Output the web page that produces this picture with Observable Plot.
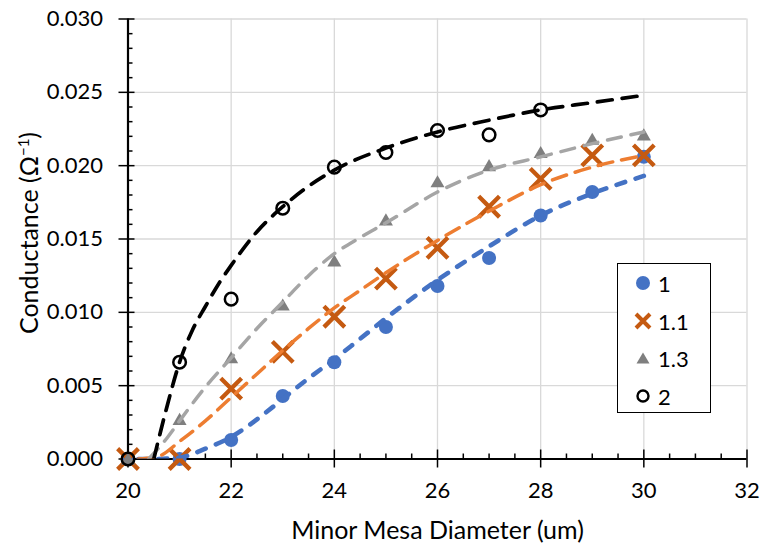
<!DOCTYPE html>
<html>
<head>
<meta charset="utf-8">
<script src="https://cdn.jsdelivr.net/npm/d3@7"></script>
<script src="https://cdn.jsdelivr.net/npm/@observablehq/plot@0.6"></script>
<style>
  html, body { margin: 0; padding: 0; background: #fff; }
  #wrap { position: relative; width: 761px; height: 546px; font-family: Lato, "Open Sans", sans-serif; }
  #legend { position: absolute; left: 617px; top: 263px; width: 94px; height: 150px; border: 1.3px solid #000; background: #fff; box-sizing: border-box; }
  .lrow { position: absolute; left: 0; height: 24px; display: flex; align-items: center; font-size: 22px; color: #000; }
  .lrow svg { margin-left: 15px; margin-right: 5px; }
</style>
</head>
<body>
<div id="wrap"></div>
<script>
// ---- data ----
const diameters = [20, 21, 22, 23, 24, 25, 26, 27, 28, 29, 30];
const cond1  = [0, 0, 0.0013, 0.0043, 0.0066, 0.0090, 0.0118, 0.0137, 0.0166, 0.0182, 0.0206];
const cond11 = [0, 0, 0.0048, 0.0073, 0.0097, 0.0123, 0.0144, 0.0172, 0.0191, 0.0207, 0.0207];
const cond13 = [0, 0.0027, 0.0069, 0.0105, 0.0135, 0.0163, 0.0189, 0.0200, 0.0209, 0.0218, 0.0221];
const diameters2 = [20, 21, 22, 23, 24, 25, 26, 27, 28];
const cond2  = [0, 0.0066, 0.0109, 0.0171, 0.0199, 0.0209, 0.0224, 0.0221, 0.0238];

// fitted trend lines
const fit1X  = [20.2, 20.5, 21, 21.5, 22, 22.5, 23, 23.5, 24, 24.5, 25, 26, 27, 28, 29, 30];
const fit1Y  = [0, 0, 0.0001, 0.0007, 0.0015, 0.0027, 0.0041, 0.0055, 0.0068, 0.0082, 0.0096, 0.0122, 0.0145, 0.0166, 0.0181, 0.0193];
const fit11X = [20.2, 20.6, 21, 21.5, 22, 22.5, 23, 23.5, 24, 24.5, 25, 26, 27, 28, 29, 30];
const fit11Y = [0, 0.0002, 0.0012, 0.0026, 0.0042, 0.0058, 0.0074, 0.0089, 0.0103, 0.0115, 0.0127, 0.0149, 0.0169, 0.0187, 0.0199, 0.0207];
const fit13X = [20.4, 20.75, 21, 21.5, 22, 22.5, 23, 23.5, 24, 24.5, 25, 26, 27, 28, 29, 30];
const fit13Y = [0, 0.0014, 0.0026, 0.0049, 0.0069, 0.0089, 0.0107, 0.0125, 0.0140, 0.0151, 0.0161, 0.0182, 0.0197, 0.0206, 0.0215, 0.0223];
const fit2X  = [20.5, 20.75, 21, 21.25, 21.5, 21.75, 22, 22.5, 23, 23.5, 24, 25, 26, 27, 28, 29, 30];
const fit2Y  = [0, 0.0035, 0.0066, 0.0088, 0.0104, 0.0119, 0.0132, 0.0155, 0.0172, 0.0186, 0.0197, 0.0212, 0.0223, 0.0231, 0.0238, 0.0243, 0.0248];

const xMajor = [20, 22, 24, 26, 28, 30, 32];
const xMinor = [20.5, 21, 21.5, 22.5, 23, 23.5, 24.5, 25, 25.5, 26.5, 27, 27.5, 28.5, 29, 29.5, 30.5, 31, 31.5];
const yMajor = [0, 0.005, 0.010, 0.015, 0.020, 0.025, 0.030];
const yMinor = [0.001,0.002,0.003,0.004,0.006,0.007,0.008,0.009,0.011,0.012,0.013,0.014,0.016,0.017,0.018,0.019,0.021,0.022,0.023,0.024,0.026,0.027,0.028,0.029];

const seriesNames = ["1", "1.1", "1.3", "2"];
const xTitle = "Minor Mesa Diameter (um)";
const yTitle = "Conductance (Ω-1)";

// ---- layout ----
const W = 761, H = 546;
const mL = 127.5, mR = 14.5, mT = 18.5, mB = 87.5;
const fw = W - mL - mR, fh = H - mT - mB;

const pts = (xs, ys) => xs.map((x, i) => ({x, y: ys[i]}));
const p1 = pts(diameters, cond1), p11 = pts(diameters, cond11), p13 = pts(diameters, cond13), p2 = pts(diameters2, cond2);
const f1 = pts(fit1X, fit1Y), f11 = pts(fit11X, fit11Y), f13 = pts(fit13X, fit13Y), f2 = pts(fit2X, fit2Y);

const chart = Plot.plot({
  width: W, height: H,
  marginLeft: mL, marginRight: mR, marginTop: mT, marginBottom: mB,
  style: {fontFamily: 'Lato, "Open Sans", sans-serif', fontSize: "22px", background: "#fff", color: "#000", overflow: "visible"},
  x: {domain: [20, 32]},
  y: {domain: [0, 0.03]},
  marks: [
    Plot.gridX(xMajor, {stroke: "#d9d9d9", strokeOpacity: 1, strokeWidth: 1.3}),
    Plot.gridY(yMajor, {stroke: "#d9d9d9", strokeOpacity: 1, strokeWidth: 1.3}),
    Plot.axisX(xMajor, {tickSize: 0, tickPadding: 23, label: null, tickFormat: d => String(d), fontSize: 22}),
    Plot.axisY(yMajor, {tickSize: 0, tickPadding: 25, label: null, tickFormat: d => d.toFixed(3), fontSize: 22}),
    Plot.ruleX(xMinor, {stroke: "#000", strokeWidth: 1.5, insetTop: fh - 5}),
    Plot.ruleX(xMajor, {stroke: "#000", strokeWidth: 1.5, insetTop: fh - 9, insetBottom: -9}),
    Plot.ruleY(yMinor, {stroke: "#000", strokeWidth: 1.5, insetRight: fw - 5}),
    Plot.ruleY(yMajor, {stroke: "#000", strokeWidth: 1.5, insetLeft: -9, insetRight: fw - 7}),
    Plot.ruleX([20], {stroke: "#000", strokeWidth: 2.2}),
    Plot.ruleY([0], {stroke: "#000", strokeWidth: 2.2}),
    // markers
    Plot.dot(p1, {x: "x", y: "y", r: 7, fill: "#4472C4", stroke: "none"}),
    Plot.dot(p11, {x: "x", y: "y", symbol: "times", r: 9.5, stroke: "#C55A11", strokeWidth: 4.3}),
    Plot.dot(p13, {x: "x", y: "y", symbol: "triangle", r: 5.2, fill: "#7F7F7F", stroke: "none", dy: 1.5}),
    Plot.dot(p2, {x: "x", y: "y", r: 6.3, fill: "none", stroke: "#000", strokeWidth: 2.5}),
    // trend lines
    Plot.line(f1, {x: "x", y: "y", curve: "monotone-x", stroke: "#4472C4", strokeWidth: 4.6, strokeDasharray: "9,11", strokeLinecap: "round", clip: true}),
    Plot.line(f11, {x: "x", y: "y", curve: "monotone-x", stroke: "#ED7D31", strokeWidth: 3.5, strokeDasharray: "15,9", clip: true}),
    Plot.line(f13, {x: "x", y: "y", curve: "monotone-x", stroke: "#A5A5A5", strokeWidth: 3.5, strokeDasharray: "14,10", clip: true}),
    Plot.line(f2, {x: "x", y: "y", curve: "monotone-x", stroke: "#000", strokeWidth: 3.7, strokeDasharray: "15,10", clip: true}),
    // titles
    Plot.text([xTitle], {frameAnchor: "bottom", dy: 80, lineAnchor: "bottom", textAnchor: "middle", fontSize: 25, fill: "#000"}),
    Plot.text([yTitle], {frameAnchor: "left", rotate: -90, dx: -98, dy: -6, textAnchor: "middle", lineAnchor: "middle", fontSize: 25, fill: "#000"})
  ]
});

document.getElementById("wrap").appendChild(chart);

// superscript for Ω^-1
d3.select(chart).selectAll("text").filter(function() { return this.textContent === yTitle; }).each(function() {
  const t = d3.select(this);
  t.text(null);
  t.append("tspan").text("Conductance (Ω");
  t.append("tspan").attr("dy", -9).attr("font-size", 15).text("−1");
  t.append("tspan").attr("dy", 9).text(")");
});

// legend
const legendStyles = [
  `<circle cx="10" cy="10" r="7" fill="#4472C4"/>`,
  `<path d="M3,3L17,17M3,17L17,3" stroke="#C55A11" stroke-width="4" fill="none"/>`,
  `<path d="M10,4.5L16.5,15.5L3.5,15.5Z" fill="#7F7F7F"/>`,
  `<circle cx="10" cy="10" r="5.5" fill="none" stroke="#000" stroke-width="2.4"/>`
];
const legendTops = [7, 45, 82, 120];
const legend = document.createElement("div");
legend.id = "legend";
seriesNames.forEach((name, i) => {
  const row = document.createElement("div");
  row.className = "lrow";
  row.style.top = legendTops[i] + "px";
  row.innerHTML = `<svg width="20" height="20" viewBox="0 0 20 20">${legendStyles[i]}</svg><span>${name}</span>`;
  legend.appendChild(row);
});
document.getElementById("wrap").appendChild(legend);
</script>
</body>
</html>
